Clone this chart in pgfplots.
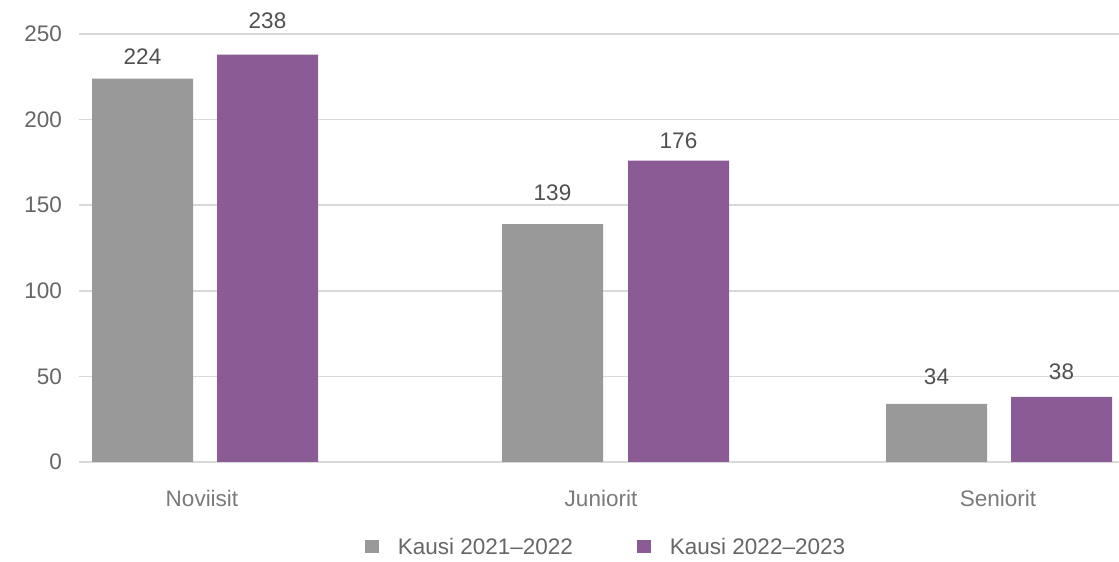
\documentclass[border=0pt]{standalone}
\usepackage{pgfplots}
\usepackage{pgfplotstable}
\pgfplotsset{compat=1.18}
\usepackage{fontspec}
\setmainfont{Liberation Sans}
\definecolor{cgray}{HTML}{999999}
\definecolor{cpurple}{HTML}{8A5B94}
\definecolor{cgrid}{HTML}{D9D9D9}
\definecolor{ctick}{HTML}{666666}
\definecolor{cval}{HTML}{505050}
\definecolor{ccat}{HTML}{7A7A7A}
\newcommand{\ff}{\fontsize{22.5}{27}\selectfont}
\pgfplotstableread{
x y off
142.5 224 14
552.5 139 23
936.5 34 19
}\tableA
\pgfplotstableread{
x y off
267.5 238 26
678.5 176 12
1061.5 38 17
}\tableB
\begin{document}
\begin{tikzpicture}[x=1pt,y=1pt]
\useasboundingbox (0,0) rectangle (1119,562);
\begin{axis}[
  at={(79pt,100pt)}, anchor=south west,
  scale only axis=true,
  width=1040pt, height=428pt,
  xmin=79, xmax=1119, ymin=0, ymax=250,
  clip=false,
  axis line style={draw=none},
  major tick length=0pt,
  ytick={0,50,100,150,200,250},
  ymajorgrids=true,
  grid style={cgrid, line width=1.5pt},
  xtick={202,601,998},
  xticklabels={Noviisit,Juniorit,Seniorit},
  xticklabel style={anchor=base, inner sep=0pt, yshift=-44pt, font=\ff, text=ccat},
  yticklabel style={anchor=east, inner sep=0pt, xshift=-17pt, font=\ff, text=ctick},
  /pgf/number format/assume math mode=true,
  ybar, bar width=101pt, bar shift=0pt,
  nodes near coords,
  visualization depends on={\thisrow{off}\as\off},
  every node near coord/.append style={font=\ff, text=cval, inner sep=0pt, anchor=south, yshift=\off pt},
  legend columns=2,
  legend style={draw=none, fill=none, at={(0.5067,-0.1986)}, anchor=center, font=\ff, text=ctick,
    /tikz/every even column/.append style={column sep=62pt}},
  legend image code/.code={\fill[#1] (0pt,-6.5pt) rectangle (14pt,6.5pt); \path[draw=none, fill=none] (0pt,0pt) rectangle (31pt,0.1pt);},
]
\addplot[fill=cgray, draw=none] table[x=x, y=y] {\tableA};
\addplot[fill=cpurple, draw=none] table[x=x, y=y] {\tableB};
\legend{Kausi 2021--2022, Kausi 2022--2023}
\end{axis}
\end{tikzpicture}
\end{document}
